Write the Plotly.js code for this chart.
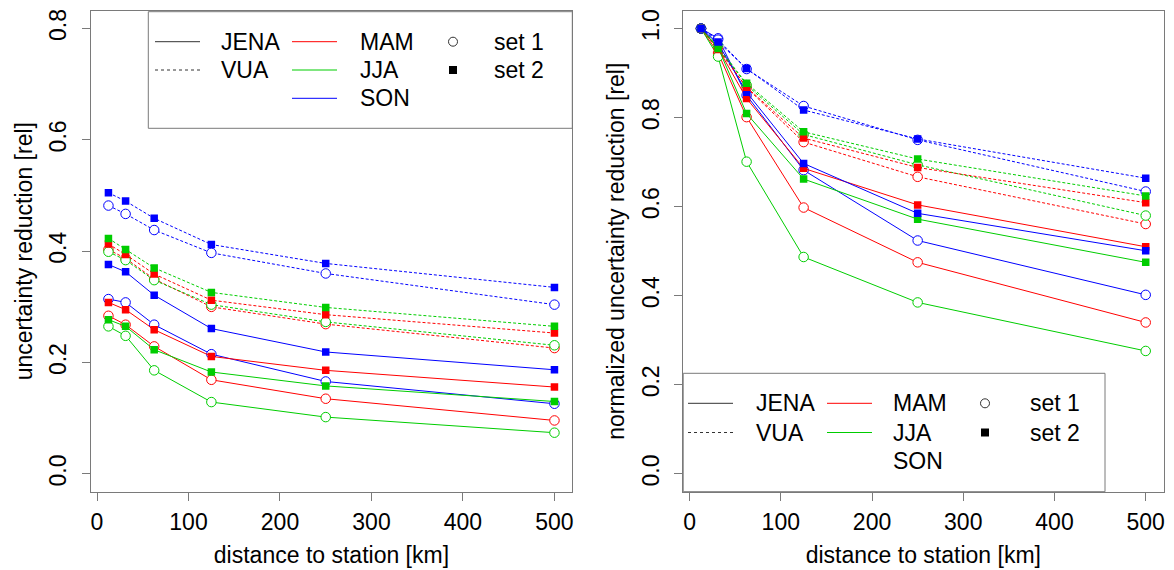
<!DOCTYPE html>
<html>
<head>
<meta charset="utf-8">
<script src="https://cdn.plot.ly/plotly-3.0.1.min.js"></script>
<style>html,body{margin:0;padding:0;background:#fff;}#chart{width:1174px;height:570px;}</style>
</head>
<body>
<div id="chart"></div>
<script>
// ---------- data ----------
const distance = [12.5, 31.25, 62.5, 125, 250, 500];
const xTicks = [0, 100, 200, 300, 400, 500];
const yTicksLeft = [0, 0.2, 0.4, 0.6, 0.8];
const yTicksRight = [0, 0.2, 0.4, 0.6, 0.8, 1.0];

// left panel: uncertainty reduction [rel]
const jenaMamSet1 = [0.284, 0.268, 0.229, 0.169, 0.135, 0.096];
const jenaMamSet2 = [0.308, 0.295, 0.259, 0.211, 0.186, 0.156];
const jenaJjaSet1 = [0.265, 0.248, 0.186, 0.129, 0.102, 0.074];
const jenaJjaSet2 = [0.277, 0.265, 0.223, 0.183, 0.158, 0.130];
const jenaSonSet1 = [0.314, 0.308, 0.268, 0.215, 0.166, 0.126];
const jenaSonSet2 = [0.376, 0.363, 0.321, 0.261, 0.219, 0.187];
const vuaMamSet1  = [0.403, 0.387, 0.350, 0.300, 0.269, 0.226];
const vuaMamSet2  = [0.413, 0.394, 0.359, 0.312, 0.286, 0.253];
const vuaJjaSet1  = [0.399, 0.384, 0.348, 0.304, 0.273, 0.231];
const vuaJjaSet2  = [0.423, 0.403, 0.370, 0.326, 0.299, 0.265];
const vuaSonSet1  = [0.482, 0.467, 0.438, 0.397, 0.360, 0.304];
const vuaSonSet2  = [0.505, 0.490, 0.459, 0.412, 0.378, 0.335];

// right panel: normalized uncertainty reduction [rel]
const nJenaMamSet1 = [1, 0.945, 0.801, 0.598, 0.475, 0.340];
const nJenaMamSet2 = [1, 0.955, 0.843, 0.686, 0.604, 0.510];
const nJenaJjaSet1 = [1, 0.937, 0.701, 0.487, 0.385, 0.276];
const nJenaJjaSet2 = [1, 0.957, 0.809, 0.662, 0.572, 0.475];
const nJenaSonSet1 = [1, 0.978, 0.850, 0.682, 0.524, 0.402];
const nJenaSonSet2 = [1, 0.966, 0.857, 0.697, 0.585, 0.501];
const nVuaMamSet1  = [1, 0.958, 0.867, 0.745, 0.667, 0.561];
const nVuaMamSet2  = [1, 0.953, 0.868, 0.754, 0.688, 0.609];
const nVuaJjaSet1  = [1, 0.962, 0.873, 0.762, 0.694, 0.580];
const nVuaJjaSet2  = [1, 0.955, 0.877, 0.768, 0.707, 0.624];
const nVuaSonSet1  = [1, 0.975, 0.909, 0.826, 0.750, 0.634];
const nVuaSonSet2  = [1, 0.970, 0.910, 0.817, 0.752, 0.664];

const stations = ['JENA', 'VUA'];
const seasons = ['MAM', 'JJA', 'SON'];
const sets = ['set 1', 'set 2'];
// ---------- styles ----------
const seasonColor = {MAM: '#ff0000', JJA: '#00cd00', SON: '#0000ff'};
const stationDash = {JENA: 'solid', VUA: '3px,2px'};

const leftData = {
  'JENA|MAM|set 1': jenaMamSet1, 'JENA|MAM|set 2': jenaMamSet2,
  'JENA|JJA|set 1': jenaJjaSet1, 'JENA|JJA|set 2': jenaJjaSet2,
  'JENA|SON|set 1': jenaSonSet1, 'JENA|SON|set 2': jenaSonSet2,
  'VUA|MAM|set 1': vuaMamSet1, 'VUA|MAM|set 2': vuaMamSet2,
  'VUA|JJA|set 1': vuaJjaSet1, 'VUA|JJA|set 2': vuaJjaSet2,
  'VUA|SON|set 1': vuaSonSet1, 'VUA|SON|set 2': vuaSonSet2
};
const rightData = {
  'JENA|MAM|set 1': nJenaMamSet1, 'JENA|MAM|set 2': nJenaMamSet2,
  'JENA|JJA|set 1': nJenaJjaSet1, 'JENA|JJA|set 2': nJenaJjaSet2,
  'JENA|SON|set 1': nJenaSonSet1, 'JENA|SON|set 2': nJenaSonSet2,
  'VUA|MAM|set 1': nVuaMamSet1, 'VUA|MAM|set 2': nVuaMamSet2,
  'VUA|JJA|set 1': nVuaJjaSet1, 'VUA|JJA|set 2': nVuaJjaSet2,
  'VUA|SON|set 1': nVuaSonSet1, 'VUA|SON|set 2': nVuaSonSet2
};

const traces = [];
function addPanel(dataMap, xa, ya) {
  sets.forEach(function (st) {
    stations.forEach(function (sta) {
      seasons.forEach(function (sea) {
        const c = seasonColor[sea];
        const isSet1 = st === 'set 1';
        traces.push({
          type: 'scatter', mode: 'lines+markers',
          x: distance, y: dataMap[sta + '|' + sea + '|' + st],
          xaxis: xa, yaxis: ya, showlegend: false, hoverinfo: 'skip',
          name: sta + ' ' + sea + ' ' + st,
          line: {color: c, width: 1, dash: stationDash[sta]},
          marker: isSet1
            ? {symbol: 'circle', size: 9.5, color: '#ffffff', line: {color: c, width: 1}}
            : {symbol: 'square', size: 7.5, color: c, line: {width: 0}}
        });
      });
    });
  });
}
addPanel(leftData, 'x', 'y');
addPanel(rightData, 'x2', 'y2');

// ---------- layout ----------
const W = 1174, H = 570;
const px = v => v / W;
const py = v => 1 - v / H;
const FONT = 'Liberation Sans, Arial, Helvetica, sans-serif';
const frame = '#7a7a7a';

function xAxis(domain) {
  return {
    domain: domain, range: [-7, 519.5], tickvals: xTicks, ticktext: xTicks.map(String),
    ticks: 'outside', ticklen: 8, tickcolor: frame, tickwidth: 1,
    showline: true, mirror: true, linecolor: frame, linewidth: 1,
    showgrid: false, zeroline: false, ticklabelstandoff: 2,
    tickfont: {family: FONT, size: 23, color: '#000'},
    title: {text: 'distance to station [km]', font: {family: FONT, size: 23, color: '#000'}, standoff: 12}
  };
}
function yAxis(range, ticks, title, anchor) {
  return {
    domain: [py(491.7), py(10.7)], range: range, tickvals: ticks, tickformat: '.1f',
    anchor: anchor,
    ticks: 'outside', ticklen: 8, tickcolor: frame, tickwidth: 1, tickangle: -90,
    showline: true, mirror: true, linecolor: frame, linewidth: 1,
    showgrid: false, zeroline: false, ticklabelstandoff: 6,
    tickfont: {family: FONT, size: 23, color: '#000'},
    title: {text: title, font: {family: FONT, size: 23, color: '#000'}, standoff: 6}
  };
}

const shapes = [];
const annotations = [];
function legendBox(x0, y0, x1, y1, rows, colX, showSonLine) {
  shapes.push({type: 'rect', xref: 'paper', yref: 'paper', x0: px(x0), x1: px(x1), y0: py(y1), y1: py(y0),
    line: {color: frame, width: 1}, fillcolor: 'rgba(255,255,255,0)'});
  const tf = {family: FONT, size: 23, color: '#000'};
  function txt(x, y, t) {
    annotations.push({xref: 'paper', yref: 'paper', x: px(x), y: py(y), text: t, showarrow: false,
      xanchor: 'left', yanchor: 'middle', font: tf});
  }
  function seg(x0, x1, y, color, dash) {
    shapes.push({type: 'line', xref: 'paper', yref: 'paper', x0: px(x0), x1: px(x1), y0: py(y), y1: py(y),
      line: {color: color, width: 1, dash: dash}});
  }
  // column 1: stations
  seg(colX[0], colX[0] + 45, rows[0], '#333', 'solid'); txt(colX[1], rows[0], 'JENA');
  seg(colX[0], colX[0] + 45, rows[1], '#333', 'dot'); txt(colX[1], rows[1], 'VUA');
  // column 2: seasons
  seg(colX[2], colX[2] + 45, rows[0], seasonColor.MAM, 'solid'); txt(colX[3], rows[0], 'MAM');
  seg(colX[2], colX[2] + 45, rows[1], seasonColor.JJA, 'solid'); txt(colX[3], rows[1], 'JJA');
  if (showSonLine) seg(colX[2], colX[2] + 45, rows[2], seasonColor.SON, 'solid');
  txt(colX[3], rows[2], 'SON');
  // column 3: sets
  shapes.push({type: 'circle', xref: 'paper', yref: 'paper', x0: px(colX[4] - 4.5), x1: px(colX[4] + 4.5),
    y0: py(rows[0] + 4.5), y1: py(rows[0] - 4.5), line: {color: '#333', width: 1}});
  shapes.push({type: 'rect', xref: 'paper', yref: 'paper', x0: px(colX[4] - 4), x1: px(colX[4] + 4),
    y0: py(rows[1] + 4), y1: py(rows[1] - 4), line: {width: 0}, fillcolor: '#000'});
  txt(colX[5], rows[0], 'set 1');
  txt(colX[5], rows[1], 'set 2');
}
legendBox(148.3, 11.7, 572.3, 128.3, [41.7, 70, 98.3], [155, 219, 292, 358, 453, 492], true);
legendBox(683.2, 373.3, 1105, 491.7, [403.3, 432.5, 461], [688, 754, 827, 891, 985, 1028], false);

const layout = {
  width: W, height: H, margin: {l: 0, r: 0, t: 0, b: 0},
  paper_bgcolor: '#fff', plot_bgcolor: '#fff', showlegend: false,
  font: {family: FONT, color: '#000'},
  xaxis: xAxis([px(90.6), px(572.3)]),
  xaxis2: Object.assign(xAxis([px(683.2), px(1163.5)]), {anchor: 'y2'}),
  yaxis: yAxis([-0.032, 0.832], yTicksLeft, 'uncertainty reduction [rel]', 'x'),
  yaxis2: yAxis([-0.04, 1.04], yTicksRight, 'normalized uncertainty reduction [rel]', 'x2'),
  shapes: shapes, annotations: annotations
};
layout.xaxis.anchor = 'y';

Plotly.newPlot('chart', traces, layout, {staticPlot: true, displayModeBar: false});
</script>
</body>
</html>
